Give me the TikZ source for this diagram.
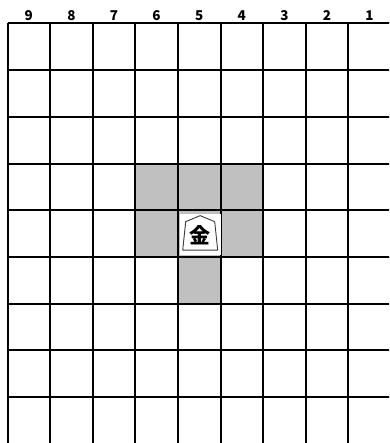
\documentclass[tikz,border=0pt]{standalone}
\usepackage{fontspec}
\newfontfamily\jpfont{Noto Sans CJK JP}
\usepackage{xcolor}
\usetikzlibrary{positioning}
\definecolor{reachgray}{HTML}{C0C0C0}
\definecolor{edgeink}{HTML}{3A3A3A}

\begin{document}
\begin{tikzpicture}[x=42.6pt, y=-46.7pt,
  grid/.style={line width=2pt, black},
  reach/.style={fill=reachgray},
  colnum/.style={font=\jpfont\bfseries\fontsize{13.5}{13.5}\selectfont, inner sep=0pt},
  piece/.style={draw=edgeink, fill=white, line width=0.9pt, line join=round},
  kanji/.style={font=\jpfont\bfseries\fontsize{21}{21}\selectfont, inner sep=0pt}]
  \useasboundingbox (-7.5pt,23.5pt) rectangle (381.5pt,-419.5pt);
  \clip (-7.5pt,23.5pt) rectangle (381.5pt,-419.5pt);
  % squares the gold can step to
  \foreach \i/\j in {3/3,4/3,5/3,3/4,4/4,5/4,4/5}
    \fill[reach] (\i,\j) rectangle (\i+1,\j+1);
  % board
  \foreach \i in {0,...,9}
    \draw[grid] (\i,0) -- (\i,9.5);
  \foreach \j in {0,...,9}
    \draw[grid] (0,\j) -- (9.5,\j);
  \foreach \k in {9,...,1}
    \node[colnum] (n\k) at ({9-\k+0.5},-0.17) {\k};
  % the piece on 5e
  \coordinate (sq) at (4.5,4.5);
  \fill[white] ([shift={(-19.5pt,19.5pt)}]sq) rectangle ([shift={(21.5pt,-21pt)}]sq);
  \draw[piece] ([shift={(1pt,18pt)}]sq) -- ([shift={(15.5pt,12pt)}]sq)
    -- ([shift={(18.5pt,-16.5pt)}]sq) -- ([shift={(-16.5pt,-16.5pt)}]sq)
    -- ([shift={(-13.5pt,12pt)}]sq) -- cycle;
  \node[kanji] (gold) at ([shift={(1pt,-2pt)}]sq) {金};
\end{tikzpicture}
\end{document}
